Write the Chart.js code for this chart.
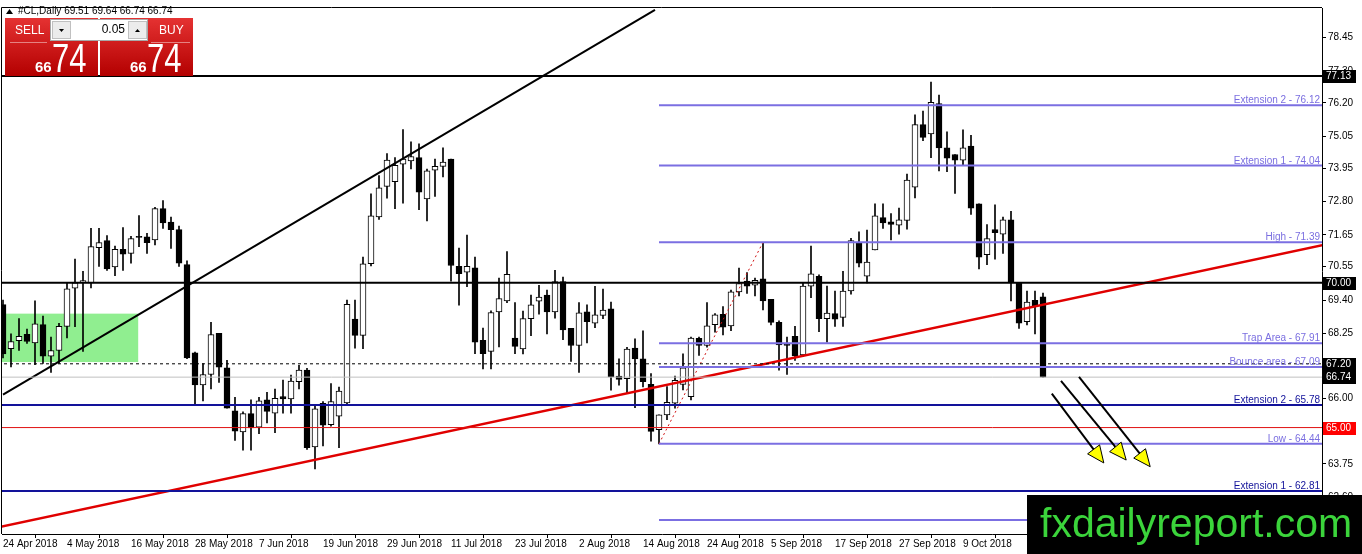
<!DOCTYPE html>
<html><head><meta charset="utf-8">
<script src="https://cdn.jsdelivr.net/npm/chart.js@4.4.1/dist/chart.umd.min.js"></script>
<style>html,body{margin:0;padding:0;background:#fff;overflow:hidden}canvas{display:block}</style>
</head><body>
<canvas id="c" width="1362" height="554"></canvas>
<script>
// ---------- DATA ----------
const symbolName = "#CL,Daily";
const dateLabels = ["24 Apr 2018","4 May 2018","16 May 2018","28 May 2018","7 Jun 2018","19 Jun 2018","29 Jun 2018","11 Jul 2018","23 Jul 2018","2 Aug 2018","14 Aug 2018","24 Aug 2018","5 Sep 2018","17 Sep 2018","27 Sep 2018","9 Oct 2018"];
const dateLabelBars = [0,8,16,24,32,40,48,56,64,72,80,88,96,104,112,120];
const yTickValues = [78.45,77.30,76.20,75.05,73.95,72.80,71.65,70.55,69.40,68.25,67.10,66.00,64.90,63.75,62.60];

const opens = [69.24,67.72,68.00,68.22,67.92,68.55,67.46,67.66,68.49,69.81,70.02,69.99,71.21,71.45,70.54,71.15,71.01,71.60,71.58,71.47,
72.55,72.09,71.83,70.62,67.58,66.47,66.83,68.25,67.06,65.58,64.85,65.48,65.01,65.96,65.50,66.07,65.99,66.58,66.98,64.33,
65.84,65.10,65.39,65.85,68.74,68.18,70.65,72.27,73.32,73.48,74.09,74.20,74.31,72.89,73.88,74.01,74.26,70.56,70.36,70.51,
68.01,67.63,68.99,69.37,68.09,67.71,68.76,69.36,69.57,68.99,70.04,68.42,67.83,68.99,68.60,68.87,69.10,66.78,66.69,67.74,
67.37,66.49,64.93,65.44,65.84,66.49,66.07,68.08,67.83,68.55,68.91,68.51,69.68,70.05,69.91,70.13,69.42,68.63,67.89,68.15,
67.51,69.88,70.22,68.76,68.93,68.80,69.71,71.38,70.22,71.13,72.24,72.10,71.98,72.15,73.29,75.45,75.13,76.18,74.65,74.42,
74.22,74.71,72.72,70.96,71.83,71.67,72.17,70.01,68.65,69.39,69.51];
const highs = [69.40,68.23,68.76,68.40,69.37,68.85,68.12,68.60,69.99,70.81,70.39,71.87,71.87,71.62,71.26,71.90,71.60,72.31,71.70,72.60,
72.83,72.26,71.95,70.75,67.60,67.21,68.63,68.25,67.32,66.04,65.54,65.96,66.04,66.22,66.33,66.64,66.81,67.15,67.04,65.79,
65.90,66.52,66.40,69.40,69.40,70.88,73.06,73.69,74.45,74.31,75.28,74.86,74.79,73.92,74.26,74.65,74.26,71.19,71.64,70.88,
68.43,69.03,70.16,71.07,69.31,69.02,69.57,69.91,69.74,70.42,70.19,68.42,69.31,69.23,69.87,69.78,69.33,67.37,67.77,68.06,
68.34,66.86,65.44,66.41,66.78,67.54,68.12,68.12,69.31,68.93,69.17,69.74,70.50,70.35,70.16,71.39,69.42,68.68,68.12,68.49,
69.99,71.26,70.27,69.88,69.71,70.39,71.53,71.75,71.81,72.72,72.72,72.38,72.57,73.74,75.79,75.92,76.92,76.47,75.20,74.42,
75.27,75.08,72.72,72.00,72.68,72.26,72.46,70.01,69.71,69.71,69.64];
const lows = [67.40,67.09,67.66,67.90,67.17,67.21,66.90,67.21,68.09,68.48,67.63,69.82,70.56,70.42,70.24,70.42,70.67,71.24,71.01,71.30,
71.87,71.18,70.56,67.38,65.81,65.92,66.33,66.56,65.67,64.56,64.22,64.22,64.79,65.16,64.82,65.50,65.50,66.33,64.25,63.57,
64.37,65.05,64.31,65.80,67.74,67.72,70.58,72.18,72.91,72.55,72.74,73.92,72.52,72.13,72.97,73.65,70.05,69.22,69.86,67.55,
67.02,67.02,67.78,69.31,67.55,67.54,68.17,68.91,68.23,68.77,68.03,67.28,66.90,67.92,68.45,68.76,66.29,66.46,66.18,65.69,
66.40,64.53,64.44,65.27,65.67,66.30,65.95,67.49,67.77,68.29,68.20,68.34,69.54,69.63,69.54,69.06,68.54,66.98,66.83,67.32,
67.45,69.48,68.31,67.95,68.49,68.49,69.60,70.54,69.99,71.13,71.87,71.47,71.67,71.84,72.92,74.90,74.31,73.85,73.83,73.08,
74.03,72.35,70.47,70.62,70.81,71.01,69.37,68.42,68.54,68.23,66.74];
const closes = [67.54,67.97,68.15,67.97,68.58,67.46,67.66,68.49,69.79,69.99,70.07,71.24,71.38,70.47,71.15,70.98,71.52,71.56,71.38,72.55,
72.06,71.83,70.67,67.40,66.47,66.83,68.21,67.08,65.67,64.88,65.48,64.99,65.92,65.56,66.01,65.99,66.60,66.98,64.31,65.65,
65.08,65.90,66.26,69.25,68.18,70.65,72.30,73.27,74.23,74.05,74.26,74.35,73.12,73.86,74.01,74.16,70.59,70.31,70.56,67.95,
67.55,68.97,69.45,70.29,67.80,68.76,69.23,69.50,68.99,70.04,68.37,67.83,68.96,68.65,68.89,69.05,66.75,66.66,67.71,67.37,
66.58,64.87,65.44,65.87,66.63,67.06,68.09,67.83,68.51,68.89,68.46,69.68,69.97,69.88,70.08,69.37,68.63,67.85,67.83,67.47,
69.88,70.30,68.76,68.95,68.74,69.71,71.45,70.67,70.71,72.30,72.06,72.01,72.17,73.54,75.45,75.01,76.22,74.65,74.29,74.22,
74.65,72.57,70.88,71.52,71.72,72.17,70.01,68.60,69.33,69.20,66.74];

// Fibonacci-style levels (start at the swing-low bar)
const fibLevels = [76.12, 74.04, 71.39, 67.91, 67.09, 64.44, 61.81];
const fibNames  = ["Extension 2", "Extension 1", "High", "Trap Area", "Bounce area", "Low", ""];
const fibStartBar = 82, fibHighBar = 95;
// full-width extension levels
const extLevels = [65.78, 62.81];
const extNames  = ["Extension 2", "Extension 1"];
// other horizontal levels
const blackLevels = [77.13, 70.00];
const dashedLevel = 67.20;
const redLevel = 65.00;
// trend lines (bar index, price)
const blackTrendX = [0, 81.5],  blackTrendY = [66.14, 79.41];
const redTrendX   = [-0.4, 164.9], redTrendY = [61.57, 71.29];
// support zone
const zoneX = [-0.2, 16.9], zoneY = [67.26, 68.93];
// projection arrows
const arrowX0 = [131.1, 132.25, 134.5], arrowY0 = [66.17, 66.61, 66.75];
const arrowX1 = [137.6, 140.4, 143.4],  arrowY1 = [63.78, 63.88, 63.65];
const spread = 0.05;
const watermark = "fxdailyreport.com";

// ---------- BUILD ----------
const N = opens.length;
const lastBar = N - 1;
const idx = opens.map((_, i) => i);
const lastClose = closes[lastBar];
const X_MIN = -0.125, X_MAX = 164.875, Y_MIN = 61.329, Y_MAX = 79.473;
const FONT = '"Liberation Sans", Arial, sans-serif';

function hline(price, color, width, dash, x0) {
  return { type: 'line', order: 0, data: [{x: x0, y: price}, {x: X_MAX + 5, y: price}],
    borderColor: color, borderWidth: width, borderDash: dash || [], pointRadius: 0, fill: false, tension: 0 };
}
function seg(xs, ys, color, width, dash) {
  return { type: 'line', order: 0, data: xs.map((x, k) => ({x, y: ys[k]})),
    borderColor: color, borderWidth: width, borderDash: dash || [], pointRadius: 0, fill: false, tension: 0 };
}

const PURPLE = '#7b6fe2', NAVY = '#12129a';
const datasets = [
  { type: 'bar', order: 2, data: idx.map(i => ({x: i, y: [lows[i], highs[i]]})),
    backgroundColor: '#000', borderWidth: 0, barThickness: 1, grouped: false },
  { type: 'bar', order: 1, data: idx.map(i => ({x: i, y: [Math.min(opens[i], closes[i]), Math.max(opens[i], closes[i])]})),
    backgroundColor: idx.map(i => closes[i] >= opens[i] ? '#ffffff' : '#000000'),
    borderColor: '#000', borderWidth: 1, borderSkipped: false, barThickness: 6, grouped: false, minBarLength: 1 },
  hline(lastClose, '#c0c0c0', 1, [], X_MIN - 5),
  hline(dashedLevel, '#000', 1, [3, 3], X_MIN - 5),
  hline(redLevel, '#e01010', 1, [], X_MIN - 5),
  ...extLevels.map(v => hline(v, NAVY, 2, [], X_MIN - 5)),
  ...blackLevels.map(v => hline(v, '#000', 2, [], X_MIN - 5)),
  ...fibLevels.map(v => hline(v, PURPLE, 2, [], fibStartBar)),
  seg([fibStartBar, fibHighBar], [fibLevels[5], fibLevels[2]], '#d01010', 1, [2, 3]),
  seg(blackTrendX, blackTrendY, '#000', 2),
  seg(redTrendX, redTrendY, '#e00000', 2.5),
];

const overlay = {
  id: 'overlay',
  beforeDatasetsDraw(chart) {
    const {ctx, scales: {x, y}, chartArea: a} = chart;
    ctx.save();
    ctx.beginPath(); ctx.rect(a.left, a.top, a.right - a.left, a.bottom - a.top); ctx.clip();
    ctx.fillStyle = '#90ee90';
    const x0 = x.getPixelForValue(zoneX[0]), x1 = x.getPixelForValue(zoneX[1]);
    const y0 = y.getPixelForValue(zoneY[1]), y1 = y.getPixelForValue(zoneY[0]);
    ctx.fillRect(x0, y0, x1 - x0, y1 - y0);
    ctx.restore();
  },
  afterDraw(chart) {
    const {ctx, scales: {x, y}, chartArea: a} = chart;
    ctx.save();
    // frame
    ctx.strokeStyle = '#000'; ctx.lineWidth = 1;
    ctx.beginPath();
    ctx.moveTo(a.left - 0.5, a.bottom); ctx.lineTo(a.left - 0.5, a.top - 0.5); ctx.lineTo(a.right, a.top - 0.5);
    ctx.stroke();
    // level labels
    ctx.font = '10px ' + FONT; ctx.textAlign = 'right'; ctx.textBaseline = 'alphabetic';
    fibLevels.forEach((v, k) => {
      if (!fibNames[k]) return;
      ctx.fillStyle = '#7a6ee0';
      ctx.fillText(fibNames[k] + ' - ' + v.toFixed(2), a.right - 2, y.getPixelForValue(v) - 2);
    });
    extLevels.forEach((v, k) => {
      ctx.fillStyle = NAVY;
      ctx.fillText(extNames[k] + ' - ' + v.toFixed(2), a.right - 2, y.getPixelForValue(v) - 2);
    });
    // arrows
    arrowX0.forEach((_, k) => {
      const sx = x.getPixelForValue(arrowX0[k]), sy = y.getPixelForValue(arrowY0[k]);
      const ex = x.getPixelForValue(arrowX1[k]), ey = y.getPixelForValue(arrowY1[k]);
      const ang = Math.atan2(ey - sy, ex - sx), L = 17, W = 7.5;
      const bx = ex - L * Math.cos(ang), by = ey - L * Math.sin(ang);
      ctx.strokeStyle = '#000'; ctx.lineWidth = 2;
      ctx.beginPath(); ctx.moveTo(sx, sy); ctx.lineTo(bx, by); ctx.stroke();
      ctx.beginPath();
      ctx.moveTo(ex, ey);
      ctx.lineTo(bx + W * Math.sin(ang), by - W * Math.cos(ang));
      ctx.lineTo(bx - W * Math.sin(ang), by + W * Math.cos(ang));
      ctx.closePath();
      ctx.fillStyle = '#ffff00'; ctx.fill();
      ctx.lineWidth = 1; ctx.stroke();
    });
    // price boxes on the axis
    const box = (v, bg) => {
      const py = Math.round(y.getPixelForValue(v));
      ctx.fillStyle = bg; ctx.fillRect(a.right + 1, py - 6, 33, 13);
      ctx.fillStyle = '#fff'; ctx.font = '10px ' + FONT; ctx.textAlign = 'left'; ctx.textBaseline = 'middle';
      ctx.fillText(v.toFixed(2), a.right + 4, py + 0.5);
    };
    blackLevels.forEach(v => box(v, '#000'));
    box(dashedLevel, '#000');
    box(lastClose, '#000');
    box(redLevel, '#ff0000');
    // watermark
    ctx.fillStyle = '#000'; ctx.fillRect(1027, 495, 335, 59);
    ctx.fillStyle = '#3bd43b'; ctx.font = '41px ' + FONT; ctx.textAlign = 'left'; ctx.textBaseline = 'alphabetic';
    ctx.fillText(watermark, 1040, 537);
    // header
    ctx.fillStyle = '#000';
    ctx.beginPath(); ctx.moveTo(6, 14); ctx.lineTo(13, 14); ctx.lineTo(9.5, 9); ctx.closePath(); ctx.fill();
    ctx.font = '10px ' + FONT; ctx.textBaseline = 'middle';
    ctx.fillText(symbolName + ' ' + [opens[lastBar], highs[lastBar], lows[lastBar], closes[lastBar]].map(v => v.toFixed(2)).join(' '), 18, 11);
    // trade panel
    const redBox = (bx) => {
      const g = ctx.createLinearGradient(0, 18, 0, 76);
      g.addColorStop(0, '#e53232'); g.addColorStop(1, '#b30000');
      ctx.fillStyle = g; ctx.fillRect(bx, 18, 93, 58);
    };
    redBox(5); redBox(100);
    ctx.fillStyle = '#fff'; ctx.fillRect(50, 19, 98, 22);
    ctx.strokeStyle = '#a8a8a8'; ctx.lineWidth = 1; ctx.strokeRect(50.5, 19.5, 97, 21);
    [[52, 21], [128, 21]].forEach(([bx, by], k) => {
      ctx.fillStyle = '#ececec'; ctx.fillRect(bx, by, 19, 18);
      ctx.strokeStyle = '#c0c0c0'; ctx.strokeRect(bx + 0.5, by + 0.5, 18, 17);
      ctx.fillStyle = '#000'; ctx.beginPath();
      if (k === 0) { ctx.moveTo(bx + 7, by + 8); ctx.lineTo(bx + 12, by + 8); ctx.lineTo(bx + 9.5, by + 11); }
      else { ctx.moveTo(bx + 7, by + 11); ctx.lineTo(bx + 12, by + 11); ctx.lineTo(bx + 9.5, by + 8); }
      ctx.closePath(); ctx.fill();
    });
    ctx.fillStyle = '#000'; ctx.font = '12px ' + FONT; ctx.textAlign = 'right'; ctx.textBaseline = 'middle';
    ctx.fillText(spread.toFixed(2), 125, 30);
    ctx.strokeStyle = 'rgba(255,255,255,0.45)';
    ctx.beginPath(); ctx.moveTo(10, 42.5); ctx.lineTo(47, 42.5); ctx.moveTo(151, 42.5); ctx.lineTo(190, 42.5); ctx.stroke();
    ctx.fillStyle = '#fff'; ctx.font = '12px ' + FONT; ctx.textAlign = 'left';
    ctx.fillText('SELL', 15, 31); ctx.fillText('BUY', 159, 31);
    const bigPrice = (bx) => {
      const s = lastClose.toFixed(2).split('.');
      ctx.font = 'bold 15px ' + FONT; ctx.textBaseline = 'alphabetic'; ctx.fillStyle = '#fff';
      ctx.fillText(s[0], bx, 72);
      ctx.save(); ctx.translate(bx + 17, 72); ctx.scale(1, 1.3);
      ctx.font = '31px ' + FONT; ctx.fillText(s[1], 0, 0); ctx.restore();
    };
    bigPrice(35); bigPrice(130);
    ctx.restore();
  }
};

new Chart(document.getElementById('c'), {
  type: 'bar',
  data: { datasets },
  options: {
    responsive: false, animation: false, devicePixelRatio: 1,
    layout: { padding: { left: 2, top: 2, right: 0, bottom: 0 } },
    plugins: { legend: { display: false }, tooltip: { enabled: false } },
    events: [],
    scales: {
      x: {
        type: 'linear', min: X_MIN, max: X_MAX, offset: false,
        afterBuildTicks: s => { s.ticks = dateLabelBars.map(v => ({value: v})); },
        afterFit: s => { s.height = 20; },
        ticks: { autoSkip: false, maxRotation: 0, minRotation: 0, align: 'start', padding: 0,
          color: '#000', font: { family: FONT, size: 10 }, callback: (v, i) => dateLabels[i] },
        grid: { drawOnChartArea: false, drawTicks: true, tickLength: 4, color: '#000' },
        border: { display: true, color: '#000', width: 1 }
      },
      y: {
        type: 'linear', position: 'right', min: Y_MIN, max: Y_MAX,
        afterBuildTicks: s => { s.ticks = yTickValues.map(v => ({value: v})); },
        afterFit: s => { s.width = 40; },
        ticks: { autoSkip: false, padding: 2, color: '#000', font: { family: FONT, size: 10 },
          callback: v => Number(v).toFixed(2) },
        grid: { drawOnChartArea: false, drawTicks: true, tickLength: 4, color: '#000' },
        border: { display: true, color: '#000', width: 1 }
      }
    }
  },
  plugins: [overlay]
});
</script>
</body></html>
